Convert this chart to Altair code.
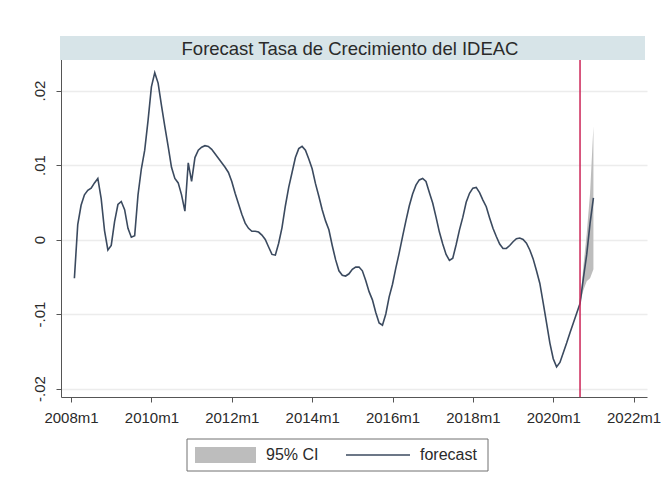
import altair as alt
import pandas as pd

# Stata monthly dates: t = (year - 1960) * 12 + (month - 1); 2008m1 = 576
MONTHS = list(range(577, 733))

# Forecast of the IDEAC growth rate (in-sample fit + out-of-sample), 2008m2 .. 2021m1
FORECAST = [
    -0.0052, 0.0020, 0.0046, 0.0060, 0.0066, 0.0069, 0.0076, 0.0082, 0.0055, 0.0012,
    -0.0014, -0.0008, 0.0024, 0.0047, 0.0051, 0.0040, 0.0015, 0.0003, 0.0005, 0.0060,
    0.0095, 0.0120, 0.0160, 0.0205, 0.0224, 0.0210, 0.0180, 0.0152, 0.0125, 0.0097,
    0.0082, 0.0076, 0.0060, 0.0038, 0.0103, 0.0078, 0.0110, 0.0120, 0.0124, 0.0126,
    0.0125, 0.0121, 0.0115, 0.0109, 0.0103, 0.0097, 0.0090, 0.0078, 0.0062, 0.0048,
    0.0034, 0.0022, 0.0015, 0.0011, 0.0011, 0.0010, 0.0006, 0.0000, -0.0010, -0.0020,
    -0.0021, -0.0005, 0.0016, 0.0045, 0.0070, 0.0090, 0.0110, 0.0122, 0.0125, 0.0120,
    0.0108, 0.0095, 0.0075, 0.0058, 0.0040, 0.0025, 0.0013, -0.0008, -0.0027, -0.0042,
    -0.0048, -0.0049, -0.0046, -0.0040, -0.0037, -0.0037, -0.0042, -0.0055, -0.0070, -0.0081,
    -0.0098, -0.0112, -0.0115, -0.0100, -0.0077, -0.0060, -0.0038, -0.0018, 0.0004, 0.0025,
    0.0045, 0.0061, 0.0073, 0.0080, 0.0082, 0.0078, 0.0063, 0.0049, 0.0030, 0.0010,
    -0.0006, -0.0020, -0.0028, -0.0025, -0.0007, 0.0013, 0.0030, 0.0050, 0.0062, 0.0069,
    0.0070, 0.0063, 0.0053, 0.0044, 0.0029, 0.0015, 0.0004, -0.0006, -0.0012, -0.0012,
    -0.0008, -0.0003, 0.0001, 0.0002, 0.0000, -0.0005, -0.0014, -0.0026, -0.0042, -0.0059,
    -0.0085, -0.0112, -0.0139, -0.0160, -0.0171, -0.0165, -0.0152, -0.0139, -0.0125, -0.0112,
    -0.0099, -0.0086, -0.0052, -0.0020, 0.0022, 0.0056,
]

# 95% confidence interval of the out-of-sample forecast
CI_MONTHS = [728, 729, 730, 731, 732]
CI_LOW = [-0.0086, -0.0068, -0.0056, -0.0052, -0.0040]
CI_HIGH = [-0.0086, -0.0036, 0.0008, 0.0062, 0.0152]

FORECAST_START = [728]  # 2020m9
X_TICKS = [576, 600, 624, 648, 672, 696, 720, 744]
Y_TICKS = [-0.02, -0.01, 0.0, 0.01, 0.02]
SERIES_LABELS = ["95% CI", "forecast"]
TITLE = "Forecast Tasa de Crecimiento del IDEAC"

FONT = "Liberation Sans"
TEXT_COLOR = "#2a2a2a"
LINE_COLOR = "#3b4a5f"
CI_COLOR = "#bdbdbd"
XLINE_COLOR = "#cc2457"
BAND_COLOR = "#d7e4e8"

W, H = 586, 361
X_DOMAIN = [573, 748]
Y_DOMAIN = [-0.02114, 0.02732]

series = pd.DataFrame({"t": MONTHS, "value": FORECAST})
ci = pd.DataFrame({"t": CI_MONTHS, "lo": CI_LOW, "hi": CI_HIGH})
xline = pd.DataFrame({"t": FORECAST_START})

x_scale = alt.Scale(domain=X_DOMAIN, nice=False, zero=False)
y_scale = alt.Scale(domain=Y_DOMAIN, nice=False, zero=False)

x_axis = alt.Axis(
    title=None, values=X_TICKS, grid=False,
    labelExpr="(floor(datum.value / 12) + 1960) + 'm' + (datum.value % 12 + 1)",
    tickSize=5, labelPadding=8, labelFontSize=15, labelFont=FONT, labelColor=TEXT_COLOR,
    domainColor="#555555", tickColor="#555555", labelFlush=False,
)
y_axis = alt.Axis(
    title=None, values=Y_TICKS, grid=True, gridColor="#ececec", gridWidth=1.5,
    labelExpr="datum.value == 0 ? '0' : (datum.value < 0 ? '-' : '') + '.' + format(abs(datum.value) * 100, '02d')",
    labelAngle=270, labelAlign="center", labelBaseline="bottom",
    tickSize=5, labelPadding=9, labelFontSize=15, labelFont=FONT, labelColor=TEXT_COLOR,
    domainColor="#555555", tickColor="#555555",
)

# title strip across the top of the plot region
band = alt.Chart(xline).mark_rect(color=BAND_COLOR).encode(
    x=alt.value(-1), x2=alt.value(W - 2), y=alt.value(0), y2=alt.value(24)
)
title = alt.Chart(xline).mark_text(
    text=TITLE, font=FONT, fontSize=18.5, color=TEXT_COLOR, baseline="middle", align="center"
).encode(x=alt.value(W / 2 - 4), y=alt.value(12.5))

area = alt.Chart(ci).mark_area(color=CI_COLOR).encode(
    x=alt.X("t:Q", scale=x_scale, axis=x_axis),
    y=alt.Y("lo:Q", scale=y_scale, axis=y_axis),
    y2="hi:Q",
)
line = alt.Chart(series).mark_line(color=LINE_COLOR, strokeWidth=1.6).encode(
    x=alt.X("t:Q", scale=x_scale, axis=x_axis),
    y=alt.Y("value:Q", scale=y_scale, axis=y_axis),
)
vline = alt.Chart(xline).mark_rule(color=XLINE_COLOR, strokeWidth=1.5).encode(
    x=alt.X("t:Q", scale=x_scale)
)

# boxed key below the x axis
key_box = alt.Chart(xline).mark_rect(fill="white", stroke="#707070", strokeWidth=1).encode(
    x=alt.value(126), x2=alt.value(427), y=alt.value(403), y2=alt.value(435)
)
key_ci = alt.Chart(xline).mark_rect(color=CI_COLOR).encode(
    x=alt.value(134), x2=alt.value(195), y=alt.value(411), y2=alt.value(427)
)
key_line = alt.Chart(xline).mark_rule(color=LINE_COLOR, strokeWidth=1.6).encode(
    x=alt.value(285), x2=alt.value(349), y=alt.value(419)
)
key_ci_label = alt.Chart(xline).mark_text(
    text=SERIES_LABELS[0], font=FONT, fontSize=16, color=TEXT_COLOR, align="left", baseline="middle"
).encode(x=alt.value(205), y=alt.value(419))
key_line_label = alt.Chart(xline).mark_text(
    text=SERIES_LABELS[1], font=FONT, fontSize=16, color=TEXT_COLOR, align="left", baseline="middle"
).encode(x=alt.value(359), y=alt.value(419))

chart = alt.layer(
    area, line, vline, band, title,
    key_box, key_ci, key_line, key_ci_label, key_line_label,
).properties(
    width=W, height=H,
    padding={"left": 61, "top": 36, "right": 16, "bottom": 87},
    autosize=alt.AutoSizeParams(type="none"),
    background="white",
).configure_view(strokeWidth=0)

chart.save("out.html", embed_options={"renderer": "svg", "actions": False})
